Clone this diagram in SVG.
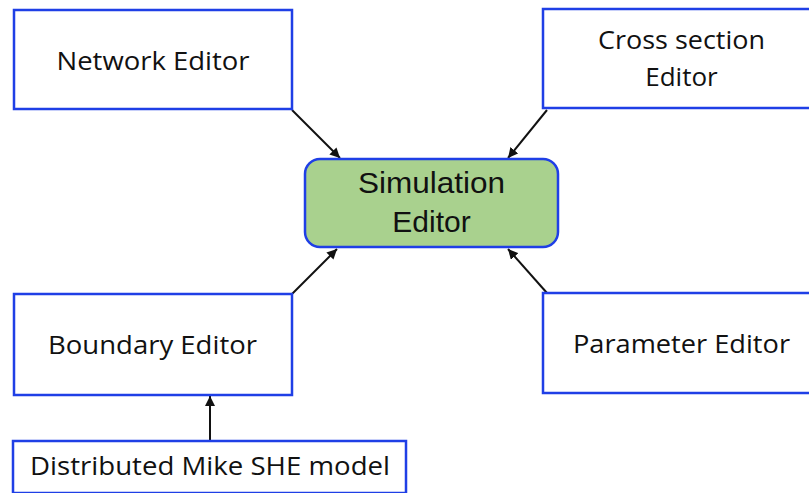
<svg xmlns="http://www.w3.org/2000/svg" width="809" height="493" viewBox="0 0 809 493">
<defs>
<style>
.box{fill:#ffffff;stroke:#1f3fe6;stroke-width:2.5}
.sim{fill:#a9d18e;stroke:#1f3fe6;stroke-width:2.5}
.t{font-family:"Open Sans","Noto Sans","Liberation Sans",sans-serif;font-size:26px;fill:#111;text-anchor:middle}
.ts{font-family:"Liberation Sans",Arial,sans-serif;font-size:30px;fill:#111;text-anchor:middle}
.c{stroke:#111;stroke-width:2;fill:none;marker-end:url(#ah)}
</style>
<marker id="ah" viewBox="0 0 10 10" refX="10" refY="5" markerWidth="5" markerHeight="5" markerUnits="strokeWidth" orient="auto">
<path d="M0,0 L10,5 L0,10 z" fill="#111"/>
</marker>
</defs>
<rect width="809" height="493" fill="#ffffff"/>
<g id="connectors">
<line class="c" x1="292" y1="110" x2="340" y2="158"/>
<line class="c" x1="547" y1="110" x2="508" y2="158"/>
<line class="c" x1="292" y1="294" x2="337" y2="249"/>
<line class="c" x1="547" y1="293" x2="508" y2="249"/>
<line class="c" x1="210" y1="441" x2="210" y2="396"/>
</g>
<g id="network-editor">
<rect class="box" x="14" y="10" width="278" height="99"/>
<text class="t" x="153" y="70" textLength="193" lengthAdjust="spacingAndGlyphs">Network Editor</text>
</g>
<g id="cross-section-editor">
<rect class="box" x="543" y="9" width="280" height="99"/>
<text class="t" x="681.5" y="49" textLength="167" lengthAdjust="spacingAndGlyphs">Cross section</text>
<text class="t" x="681.5" y="86">Editor</text>
</g>
<g id="simulation-editor">
<rect class="sim" x="305" y="159" width="253" height="88" rx="15" ry="15"/>
<text class="ts" x="431.5" y="193" textLength="147" lengthAdjust="spacingAndGlyphs">Simulation</text>
<text class="ts" x="431.5" y="232">Editor</text>
</g>
<g id="boundary-editor">
<rect class="box" x="14" y="294" width="278" height="101"/>
<text class="t" x="152.5" y="354" textLength="209" lengthAdjust="spacingAndGlyphs">Boundary Editor</text>
</g>
<g id="parameter-editor">
<rect class="box" x="543" y="293" width="280" height="100"/>
<text class="t" x="681.5" y="353" textLength="217" lengthAdjust="spacingAndGlyphs">Parameter Editor</text>
</g>
<g id="distributed-mike-she-model">
<rect class="box" x="13" y="441" width="393" height="52"/>
<text class="t" x="210" y="475" textLength="360" lengthAdjust="spacingAndGlyphs">Distributed Mike SHE model</text>
</g>
</svg>
